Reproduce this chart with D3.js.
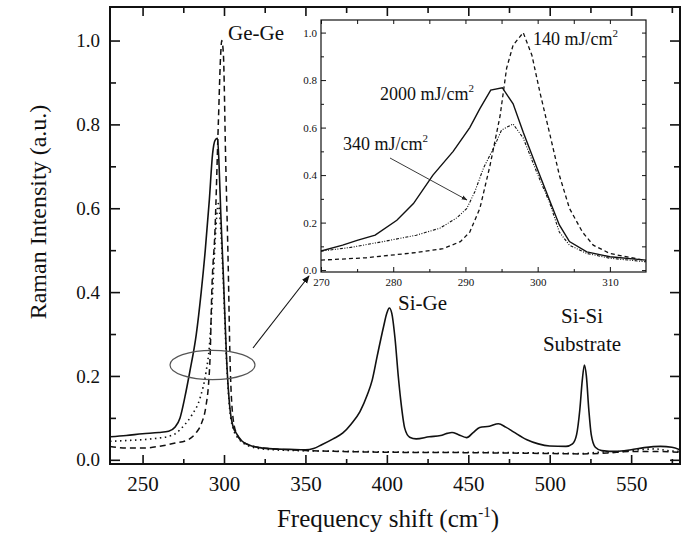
<!DOCTYPE html>
<html>
<head>
<meta charset="utf-8">
<script src="https://cdn.jsdelivr.net/npm/d3@7"></script>
<style>
  body { margin: 0; background: #fff; }
  svg text { font-family: "Liberation Serif", "Times New Roman", serif; fill: #111; }
</style>
</head>
<body>
<div id="chart"></div>
<script>
// ---- data ----
// main panel: [frequency shift cm-1, normalised intensity]
const main2000 = [[230,0.055],[240,0.058],[250,0.062],[260,0.065],[266,0.068],[270,0.078],[273,0.1],[276,0.15],[279,0.21],[283,0.3],[286,0.4],[288.5,0.5],[291,0.62],[293,0.73],[294.5,0.762],[296,0.767],[297,0.7],[298,0.59],[299.6,0.44],[301.6,0.24],[303.7,0.12],[305.5,0.08],[307.8,0.062],[311,0.045],[315,0.036],[322,0.029],[330,0.026],[340,0.025],[350,0.024],[355,0.027],[360,0.036],[367,0.05],[373,0.064],[378,0.085],[383.5,0.115],[388,0.155],[391,0.19],[394,0.246],[398,0.318],[400,0.35],[401.5,0.362],[403,0.35],[405,0.29],[407,0.2],[408.5,0.143],[411,0.075],[414,0.054],[418,0.05],[426,0.055],[433,0.058],[437,0.063],[440,0.065],[444,0.06],[449,0.053],[453,0.065],[457,0.077],[463,0.08],[468.5,0.086],[473,0.078],[478,0.066],[486,0.048],[493,0.038],[500,0.033],[510,0.032],[514,0.038],[516.5,0.06],[518.5,0.12],[520,0.19],[521.3,0.226],[522.5,0.2],[524,0.12],[525.5,0.06],[528,0.03],[532,0.022],[541,0.02],[550,0.024],[558,0.029],[568,0.032],[575,0.03],[580,0.024]];
const main340 = [[230,0.044],[240,0.046],[250,0.048],[260,0.052],[266,0.056],[270,0.062],[275,0.08],[280,0.105],[285.5,0.15],[289,0.21],[291,0.27],[292.5,0.36],[294,0.48],[295.5,0.58],[296.5,0.611],[298,0.55],[299.5,0.43],[301.5,0.24],[303.5,0.12],[306,0.07],[309,0.05],[313,0.037],[320,0.028],[330,0.024],[345,0.022],[360,0.021],[380,0.02],[400,0.019],[420,0.018],[450,0.018],[480,0.017],[500,0.016],[520,0.015],[530,0.018],[545,0.02],[555,0.024],[565,0.026],[572,0.022],[580,0.02]];
const main140 = [[230,0.032],[240,0.028],[250,0.028],[260,0.032],[270,0.04],[278,0.048],[283,0.065],[286,0.085],[289,0.13],[290.5,0.18],[291.5,0.25],[292.5,0.4],[294.5,0.55],[296.5,0.8],[298,0.97],[298.6,1.0],[299.6,0.97],[301,0.72],[302.6,0.46],[303.7,0.24],[305.7,0.095],[308,0.06],[310,0.048],[315,0.036],[322,0.029],[335,0.025],[350,0.022],[370,0.02],[400,0.018],[450,0.017],[500,0.015],[520,0.014],[535,0.016],[550,0.02],[565,0.02],[580,0.018]];

// inset (zoom on the Ge-Ge band)
const inset2000 = [[270,0.08],[273,0.105],[275,0.125],[277.5,0.147],[280.5,0.21],[282.8,0.28],[285.5,0.4],[288.3,0.5],[290.6,0.6],[292,0.68],[293.5,0.758],[295.1,0.768],[296.6,0.7],[298,0.58],[299.9,0.43],[301.7,0.29],[303,0.19],[304.4,0.12],[306.8,0.077],[310,0.056],[315,0.042]];
const inset340 = [[270,0.08],[274,0.095],[278.6,0.12],[283.2,0.147],[286.5,0.177],[288.8,0.22],[290.2,0.26],[291.3,0.33],[292.5,0.43],[294,0.52],[295,0.59],[296.6,0.615],[298,0.556],[299.9,0.41],[301.7,0.28],[303,0.16],[304.4,0.105],[306.8,0.07],[310,0.05],[315,0.035]];
const inset140 = [[270,0.042],[276.3,0.052],[283.2,0.074],[286.9,0.09],[289.3,0.12],[290.6,0.16],[292,0.26],[293.4,0.44],[294.8,0.65],[295.7,0.85],[296.6,0.947],[298,1.0],[299.2,0.905],[300.3,0.75],[301.7,0.57],[303,0.4],[304.4,0.26],[306.2,0.16],[307.7,0.105],[310,0.07],[315,0.04]];

const xTicks = [250, 300, 350, 400, 450, 500, 550];
const xMinor = [275, 325, 375, 425, 475, 525, 575];
const yTicks = [0, 0.2, 0.4, 0.6, 0.8, 1.0];
const yMinor = [0.1, 0.3, 0.5, 0.7, 0.9];
const insetXTicks = [270, 280, 290, 300, 310];
const insetXMinor = [275, 285, 295, 305];
const insetYTicks = [0, 0.2, 0.4, 0.6, 0.8, 1.0];
const insetYMinor = [0.1, 0.3, 0.5, 0.7, 0.9];

const serif = "Liberation Serif";

// ---- svg ----
const svg = d3.select("#chart").append("svg")
    .attr("width", 684)
    .attr("height", 535);

const defs = svg.append("defs");
defs.append("marker")
    .attr("id", "head")
    .attr("viewBox", "0 0 10 10")
    .attr("refX", 9).attr("refY", 5)
    .attr("markerWidth", 8).attr("markerHeight", 8)
    .attr("markerUnits", "userSpaceOnUse")
    .attr("orient", "auto")
    .append("path").attr("d", "M0,1 L10,5 L0,9 Z").attr("fill", "#111");
defs.append("marker")
    .attr("id", "headSmall")
    .attr("viewBox", "0 0 10 10")
    .attr("refX", 9).attr("refY", 5)
    .attr("markerWidth", 6).attr("markerHeight", 6)
    .attr("markerUnits", "userSpaceOnUse")
    .attr("orient", "auto")
    .append("path").attr("d", "M0,1.5 L10,5 L0,8.5 Z").attr("fill", "#222");

// main scales
const x = d3.scaleLinear().domain([230, 580]).range([110, 680]);
const y = d3.scaleLinear().domain([-0.01, 1.08]).range([464, 7]);

// tick helper: draws inward ticks with optional labels
function drawAxis(axisFn, scale, values, size, pos, labels, fontSize, padding, lw) {
    const g = svg.append("g")
        .attr("transform", pos)
        .call(axisFn(scale).tickValues(values).tickSizeInner(-size).tickSizeOuter(0)
            .tickPadding(padding || 3)
            .tickFormat(labels ? d3.format(".1~f") : () => ""));
    g.select(".domain").remove();
    g.attr("font-family", serif);
    g.selectAll(".tick line").attr("stroke", "#111").attr("stroke-width", lw || 1.6);
    g.selectAll("text").attr("font-size", fontSize || 12).attr("font-family", serif);
    return g;
}

// main axes (mirrored on all four sides)
drawAxis(d3.axisBottom, x, xTicks, 9, "translate(0,464)", true, 21, 12)
    .selectAll("text").text(d => d);
drawAxis(d3.axisBottom, x, xMinor, 5, "translate(0,464)", false);
drawAxis(d3.axisTop, x, xTicks, 9, "translate(0,7)", false);
drawAxis(d3.axisTop, x, xMinor, 6, "translate(0,7)", false);
drawAxis(d3.axisLeft, y, yTicks, 10, "translate(110,0)", true, 19, 10)
    .selectAll("text").text(d => d3.format(".1f")(d));
drawAxis(d3.axisLeft, y, yMinor, 6, "translate(110,0)", false);
drawAxis(d3.axisRight, y, yTicks, 10, "translate(680,0)", false);
drawAxis(d3.axisRight, y, yMinor, 6, "translate(680,0)", false);

svg.append("rect")
    .attr("x", 110).attr("y", 7)
    .attr("width", 570).attr("height", 457)
    .attr("fill", "none").attr("stroke", "#111").attr("stroke-width", 2);

// main curves
svg.append("clipPath").attr("id", "mainClip")
    .append("rect").attr("x", 110).attr("y", 7).attr("width", 570).attr("height", 457);

const line = d3.line().x(d => x(d[0])).y(d => y(d[1])).curve(d3.curveMonotoneX);
const mainSeries = [
    { data: main140, dash: "6,4", width: 1.5 },
    { data: main340, dash: "1.5,3.5", width: 1.6 },
    { data: main2000, dash: null, width: 1.6 }
];
svg.append("g").attr("clip-path", "url(#mainClip)")
    .selectAll("path").data(mainSeries).enter().append("path")
    .attr("d", d => line(d.data))
    .attr("fill", "none")
    .attr("stroke", "#111")
    .attr("stroke-width", d => d.width)
    .attr("stroke-dasharray", d => d.dash);

// ellipse around the Ge-Ge band + arrow to inset
svg.append("ellipse")
    .attr("cx", 212.5).attr("cy", 365)
    .attr("rx", 42.5).attr("ry", 14.7)
    .attr("fill", "none").attr("stroke", "#555").attr("stroke-width", 1.2);
svg.append("line")
    .attr("x1", 253).attr("y1", 348).attr("x2", 309).attr("y2", 276)
    .attr("stroke", "#111").attr("stroke-width", 1.1)
    .attr("marker-end", "url(#head)");

// main labels
const lab = svg.append("g").attr("font-size", 21).attr("font-family", serif);
lab.append("text").attr("x", 228).attr("y", 40).text("Ge-Ge");
lab.append("text").attr("x", 398).attr("y", 310).text("Si-Ge");
lab.append("text").attr("x", 582).attr("y", 323).attr("text-anchor", "middle").text("Si-Si");
lab.append("text").attr("x", 582).attr("y", 351).attr("text-anchor", "middle").text("Substrate");

// axis titles
svg.append("text")
    .attr("transform", "translate(46,212) rotate(-90)")
    .attr("text-anchor", "middle")
    .attr("font-family", serif)
    .attr("font-size", 24)
    .text("Raman Intensity (a.u.)");
const xt = svg.append("text")
    .attr("x", 388).attr("y", 527)
    .attr("text-anchor", "middle")
    .attr("font-family", serif)
    .attr("font-size", 25);
xt.append("tspan").text("Frequency shift (cm");
xt.append("tspan").attr("font-size", 15).attr("dy", -10).text("-1");
xt.append("tspan").attr("dy", 10).text(")");

// ---- inset ----
const ix = d3.scaleLinear().domain([270, 315]).range([321, 646]);
const iy = d3.scaleLinear().domain([-0.008, 1.053]).range([272, 20]);

svg.append("rect")
    .attr("x", 321).attr("y", 20).attr("width", 325).attr("height", 252)
    .attr("fill", "#fff");

drawAxis(d3.axisBottom, ix, insetXTicks, 5, "translate(0,272)", true, 11, 6, 1)
    .selectAll("text").text(d => d);
drawAxis(d3.axisBottom, ix, insetXMinor, 3, "translate(0,272)", false, 11, 3, 1);
drawAxis(d3.axisTop, ix, insetXTicks.concat(insetXMinor), 4, "translate(0,20)", false, 11, 3, 1);
drawAxis(d3.axisLeft, iy, insetYTicks, 5, "translate(321,0)", true, 11, 4, 1)
    .selectAll("text").text(d => d3.format(".1f")(d));
drawAxis(d3.axisLeft, iy, insetYMinor, 3, "translate(321,0)", false, 11, 3, 1);
drawAxis(d3.axisRight, iy, insetYTicks.concat(insetYMinor), 4, "translate(646,0)", false, 11, 3, 1);

svg.append("rect")
    .attr("x", 321).attr("y", 20).attr("width", 325).attr("height", 252)
    .attr("fill", "none").attr("stroke", "#111").attr("stroke-width", 1.2);

svg.append("clipPath").attr("id", "insetClip")
    .append("rect").attr("x", 321).attr("y", 20).attr("width", 325).attr("height", 252);

const iline = d3.line().x(d => ix(d[0])).y(d => iy(d[1]));
const insetSeries = [
    { data: inset140, dash: "4,3", width: 1.3 },
    { data: inset340, dash: "3,1.5,1,1.5,1,1.5", width: 1.1 },
    { data: inset2000, dash: null, width: 1.4 }
];
svg.append("g").attr("clip-path", "url(#insetClip)")
    .selectAll("path").data(insetSeries).enter().append("path")
    .attr("d", d => iline(d.data))
    .attr("fill", "none")
    .attr("stroke", "#111")
    .attr("stroke-width", d => d.width)
    .attr("stroke-dasharray", d => d.dash);

// inset labels
function fluence(xp, yp, value) {
    const t = svg.append("text").attr("x", xp).attr("y", yp)
        .attr("font-size", 18).attr("font-family", serif);
    t.append("tspan").text(value + " mJ/cm");
    t.append("tspan").attr("font-size", 11).attr("dy", -8).text("2");
}
fluence(533, 45, "140");
fluence(380, 100, "2000");
fluence(343, 150, "340");

svg.append("line")
    .attr("x1", 390).attr("y1", 158).attr("x2", 467).attr("y2", 200)
    .attr("stroke", "#222").attr("stroke-width", 0.9)
    .attr("marker-end", "url(#headSmall)");
</script>
</body>
</html>
